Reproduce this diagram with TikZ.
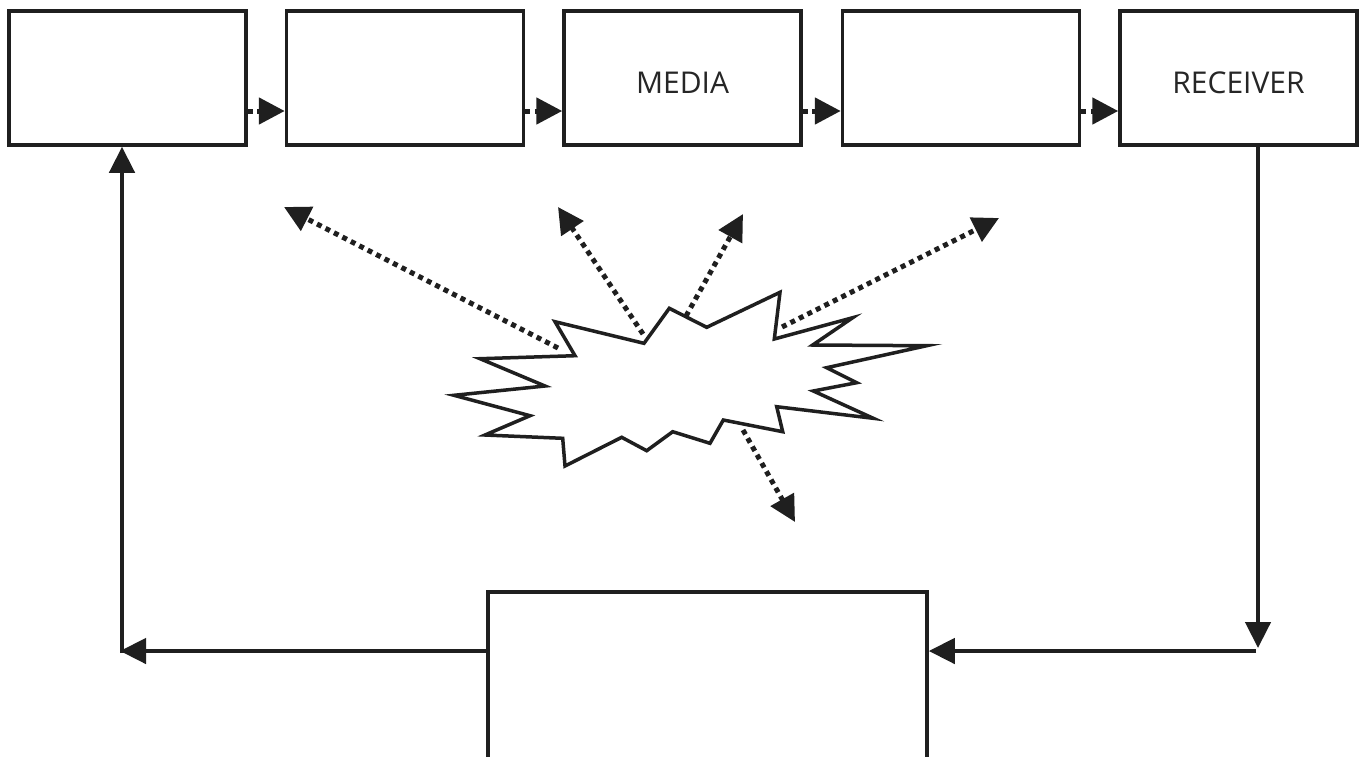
\documentclass[tikz,border=0pt]{standalone}
\usepackage{fontspec}
\setmainfont{Open Sans}
\usetikzlibrary{arrows.meta}
\tikzset{
  box/.style={draw=black!88, line width=3.5pt, fill=white, minimum width=237pt, minimum height=134pt, inner sep=0pt, text height=30pt, text depth=0pt, font=\fontsize{30}{36}\selectfont, text=black!85},
  dotarr/.style={draw=black!88, line width=5pt, dash pattern=on 5pt off 4.5pt, -{Triangle[length=26pt,width=26pt]}},
  solidarr/.style={draw=black!88, line width=4.5pt, -{Triangle[length=26pt,width=25pt]}},
  burst/.style={draw=black!88, line width=3.5pt, fill=white, line join=miter},
}
\begin{document}
\begin{tikzpicture}[x=1pt,y=-1pt]
\useasboundingbox (0,0) rectangle (1365,756);
\clip (0,0) rectangle (1365,756);
\fill[white] (0,0) rectangle (1365,756);
% top row
\node[box] (b1) at (127.5,78) {};
\node[box] (b2) at (405,78) {};
\node[box] (b3) at (682.5,78) {MEDIA};
\node[box] (b4) at (961,78) {};
\node[box] (b5) at (1238.5,78) {RECEIVER};
% bottom box
\node[box, minimum width=439pt, minimum height=300pt] (fb) at (707.5,742) {};
% arrows between boxes
\draw[dotarr] ([yshift=-33pt]b1.east) -- ([yshift=-33pt]b2.west);
\draw[dotarr] ([yshift=-33pt]b2.east) -- ([yshift=-33pt]b3.west);
\draw[dotarr] ([yshift=-33pt]b3.east) -- ([yshift=-33pt]b4.west);
\draw[dotarr] ([yshift=-33pt]b4.east) -- ([yshift=-33pt]b5.west);
% feedback loop
\coordinate (c1) at (1258,648);
\coordinate (c2) at (1256,651);
\coordinate (c3) at (120,651);
\coordinate (c4) at (122,653);
\draw[solidarr] (c1 |- b5.south) -- (c1);
\draw[solidarr] (c2) -- (c2 -| fb.east);
\draw[solidarr] (c3 -| fb.west) -- (c3);
\draw[solidarr] (c4) -- (c4 |- b1.south);
% burst
\draw[burst] (555,321.7) -- (575,355.7) -- (480,358.7) -- (545,386) -- (454,395.3) -- (530,415.7) -- (485,435) -- (562.7,438.3) -- (565,466) -- (621.7,437.3) -- (646.7,450.7) -- (672.7,431.7) -- (710,443.3) -- (723.3,420) -- (782.7,431.7) -- (776.7,406.7) -- (873.3,418.3) -- (813.3,391) -- (856.7,382.7) -- (826.7,367.7) -- (926.7,345.7) -- (812.7,345) -- (852.7,317.7) -- (774.3,339) -- (780,292.3) -- (706.7,327.3) -- (669.3,308.3) -- (644,343.3) -- cycle;
% noise arrows
\coordinate (s1) at (558,348); \coordinate (t1) at (284,207);
\coordinate (s2) at (643,334); \coordinate (t2) at (558,207);
\coordinate (s3) at (686,316); \coordinate (t3) at (743,214);
\coordinate (s4) at (782,327); \coordinate (t4) at (999,218);
\coordinate (s5) at (743,430); \coordinate (t5) at (795,522);
\draw[dotarr] (s1) -- (t1);
\draw[dotarr] (s2) -- (t2);
\draw[dotarr] (s3) -- (t3);
\draw[dotarr] (s4) -- (t4);
\draw[dotarr] (s5) -- (t5);
\end{tikzpicture}
\end{document}
